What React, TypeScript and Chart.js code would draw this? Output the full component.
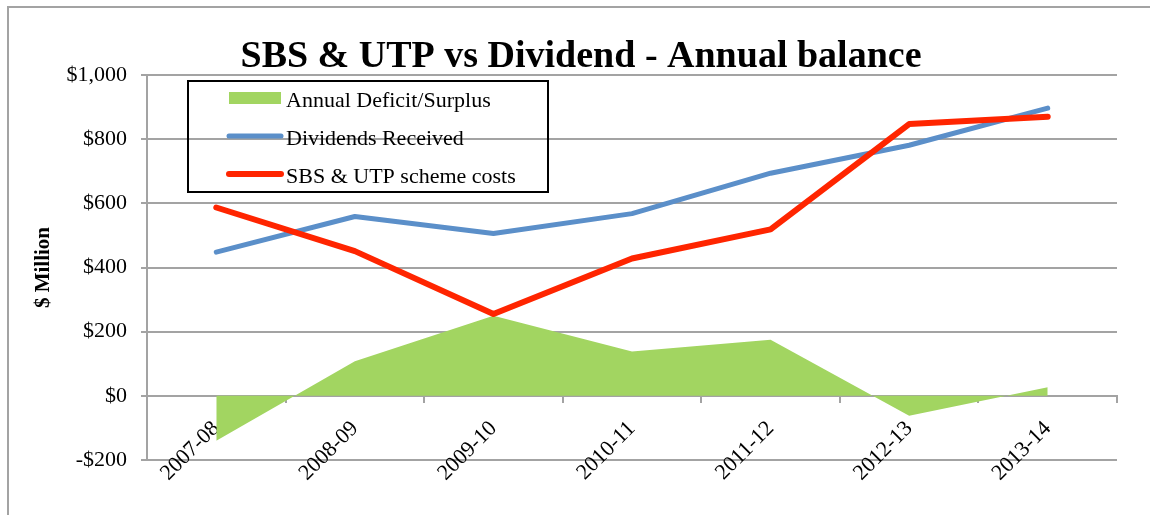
import React, { useEffect, useRef } from 'react';
import { Chart, registerables } from 'chart.js';

Chart.register(...registerables);

// ---- data ----
const categories = ['2007-08', '2008-09', '2009-10', '2010-11', '2011-12', '2012-13', '2013-14'];
const deficitSurplus = [-140, 108, 250, 138, 175, -62, 27];
const dividendsReceived = [448, 559, 506, 568, 694, 781, 897];
const schemeCosts = [587, 451, 255, 428, 519, 847, 870];
const seriesNames = ['Annual Deficit/Surplus', 'Dividends Received', 'SBS & UTP scheme costs'];
const yTicks = [-200, 0, 200, 400, 600, 800, 1000];
const titleText = 'SBS & UTP vs Dividend - Annual balance';
const yAxisTitle = '$ Million';

// ---- styles ----
const FONT = "'Liberation Serif', 'Times New Roman', serif";
const GREEN = '#a2d561';
const BLUE = '#5b8fc9';
const RED = '#ff2500';
const GRID = '#a3a3a3';

const fmtMoney = (v: number) => {
  const abs = Math.abs(v);
  const s = String(abs).replace(/\B(?=(\d{3})+(?!\d))/g, ',');
  return (v < 0 ? '-$' : '$') + s;
};

const boxLegend = {
  id: 'boxLegend',
  afterDraw(chart: any) {
    const { ctx, chartArea } = chart;
    const left = chartArea.left + 40;
    const top = chartArea.top + 5;
    const w = 362;
    const h = 113;
    ctx.save();
    ctx.strokeStyle = '#000';
    ctx.lineWidth = 2;
    ctx.strokeRect(left + 1, top + 1, w - 2, h - 2);
    ctx.font = `22px ${FONT}`;
    ctx.textAlign = 'left';
    ctx.textBaseline = 'alphabetic';
    chart.data.datasets.forEach((ds: any, i: number) => {
      const cy = top + 18 + 38 * i;
      const sx0 = left + 42;
      const sx1 = left + 94;
      if (ds.fill) {
        ctx.fillStyle = ds.backgroundColor;
        ctx.fillRect(sx0, cy - 6, sx1 - sx0, 12);
      } else {
        ctx.strokeStyle = ds.borderColor;
        ctx.lineWidth = ds.borderWidth;
        ctx.lineCap = 'round';
        ctx.beginPath();
        ctx.moveTo(sx0, cy);
        ctx.lineTo(sx1, cy);
        ctx.stroke();
      }
      ctx.fillStyle = '#000';
      ctx.fillText(ds.label, left + 99, cy + 9);
    });
    ctx.restore();
  },
};

export default function App() {
  const canvasRef = useRef<HTMLCanvasElement | null>(null);

  useEffect(() => {
    if (!canvasRef.current) return;
    Chart.defaults.font.family = FONT;
    const chart = new Chart(canvasRef.current, {
      type: 'line',
      data: {
        labels: categories,
        datasets: [
          {
            label: seriesNames[0],
            data: deficitSurplus,
            fill: 'origin',
            backgroundColor: GREEN,
            borderColor: 'transparent',
            borderWidth: 0,
            pointRadius: 0,
            tension: 0,
            order: 3,
          },
          {
            label: seriesNames[1],
            data: dividendsReceived,
            fill: false,
            borderColor: BLUE,
            backgroundColor: BLUE,
            borderWidth: 5,
            borderCapStyle: 'round',
            borderJoinStyle: 'round',
            pointRadius: 0,
            tension: 0,
            order: 2,
          },
          {
            label: seriesNames[2],
            data: schemeCosts,
            fill: false,
            borderColor: RED,
            backgroundColor: RED,
            borderWidth: 6,
            borderCapStyle: 'round',
            borderJoinStyle: 'round',
            pointRadius: 0,
            tension: 0,
            order: 1,
          },
        ],
      },
      options: {
        animation: false,
        responsive: false,
        devicePixelRatio: 1,
        layout: { padding: { left: 45, right: 33, top: 0, bottom: 55 } },
        plugins: {
          legend: { display: false },
          tooltip: { enabled: false },
          title: {
            display: true,
            text: titleText,
            color: '#000',
            font: { family: FONT, size: 38, weight: 'bold', lineHeight: 1 },
            padding: { top: 38, bottom: -1 },
          },
        },
        scales: {
          x: {
            type: 'category',
            offset: true,
            z: 1,
            position: { y: 0 } as any,
            grid: {
              display: true,
              drawOnChartArea: false,
              drawTicks: true,
              tickLength: 6,
              offset: true,
              color: GRID,
              lineWidth: 2,
            },
            border: { display: true, color: GRID, width: 2 },
            ticks: {
              autoSkip: false,
              minRotation: 45,
              maxRotation: 45,
              padding: 14,
              labelOffset: 0,
              color: '#000',
              font: { family: FONT, size: 22 },
            },
            afterFit: (s: any) => {
              s.height = 0;
            },
          },
          y: {
            min: -200,
            max: 1000,
            afterBuildTicks: (s: any) => {
              s.ticks = yTicks.map((v) => ({ value: v }));
            },
            ticks: {
              padding: 14,
              color: '#000',
              font: { family: FONT, size: 22 },
              callback: (v: any) => fmtMoney(Number(v)),
            },
            grid: { color: GRID, lineWidth: 2, drawTicks: true, tickLength: 6 },
            border: { display: true, color: GRID, width: 2 },
            title: {
              display: true,
              text: yAxisTitle,
              color: '#000',
              font: { family: FONT, size: 21, weight: 'bold' },
              padding: { top: -13.6, bottom: 0 },
            },
            afterFit: (s: any) => {
              s.width = 102;
            },
          },
        },
      },
      plugins: [boxLegend],
    });
    return () => chart.destroy();
  }, []);

  return (
    <div>
      <div
        style={{
          position: 'absolute',
          left: 7,
          top: 6,
          width: 1143,
          height: 509,
          borderTop: `2px solid ${GRID}`,
          borderLeft: `2px solid ${GRID}`,
          boxSizing: 'border-box',
        }}
      />
      <canvas
        ref={canvasRef}
        width={1150}
        height={515}
        style={{ position: 'absolute', left: 0, top: 0, width: 1150, height: 515, display: 'block' }}
      />
    </div>
  );
}
